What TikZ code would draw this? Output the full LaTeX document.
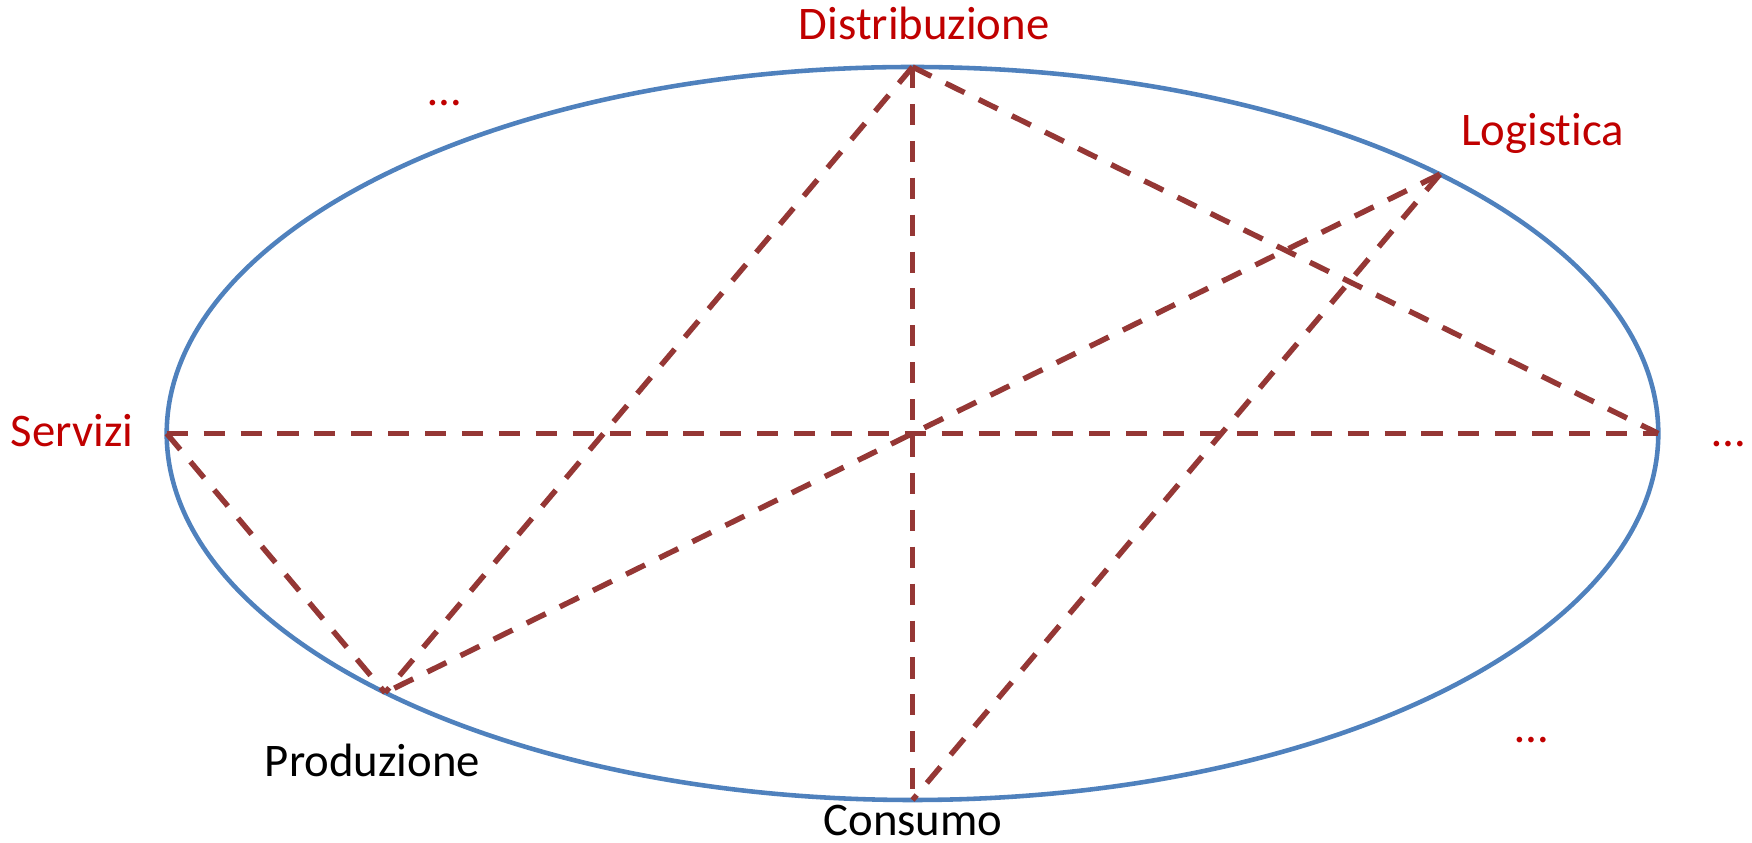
\documentclass[tikz,border=0pt]{standalone}
\usepackage{fontspec}
\setmainfont{Carlito}[Ligatures=NoCommon]
\definecolor{bordoblu}{HTML}{4F81BD}
\definecolor{lineared}{HTML}{953735}
\definecolor{testored}{HTML}{C00000}
\begin{document}
\begin{tikzpicture}[font=\fontsize{13.3}{16}\selectfont,
	tratto/.style={lineared, line width=1.55pt, dash pattern=on 6pt off 4.5pt},
	etich/.style={anchor=base, inner sep=0pt},
	rosso/.style={etich, text=testored}]
	\useasboundingbox (0,0) rectangle (17.52,8.43);
	% ellisse e punti sul bordo
	\coordinate (centro) at (9.125,4.095);
	\draw[bordoblu, line width=1.3pt] (centro) ellipse [x radius=7.458, y radius=3.665];
	\coordinate (distr) at (9.125,7.76);
	\coordinate (logis) at (14.399,6.687);
	\coordinate (destra) at (16.583,4.095);
	\coordinate (serv) at (1.667,4.095);
	\coordinate (prod) at (3.851,1.503);
	\coordinate (cons) at (9.125,0.43);
	% collegamenti
	\draw[tratto] (distr) -- (cons);
	\draw[tratto] (distr) -- (destra);
	\draw[tratto] (distr) -- (prod);
	\draw[tratto] (serv) -- (destra);
	\draw[tratto] (serv) -- (prod);
	\draw[tratto] (logis) -- (prod);
	\draw[tratto] (logis) -- (cons);
	% etichette
	\node[rosso] (distrlab) at (9.242,8.037) {Distribuzione};
	\node[rosso] (logislab) at (15.425,6.97) {Logistica};
	\node[rosso] (servlab) at (0.722,3.963) {Servizi};
	\node[etich] (prodlab) at (3.725,0.663) {Produzione};
	\node[etich] (conslab) at (9.13,0.07) {Consumo};
	\node[rosso] (punti1) at (4.45,7.37) {…};
	\node[rosso] (punti2) at (17.29,3.96) {…};
	\node[rosso] (punti3) at (15.315,1.0) {…};
\end{tikzpicture}
\end{document}
